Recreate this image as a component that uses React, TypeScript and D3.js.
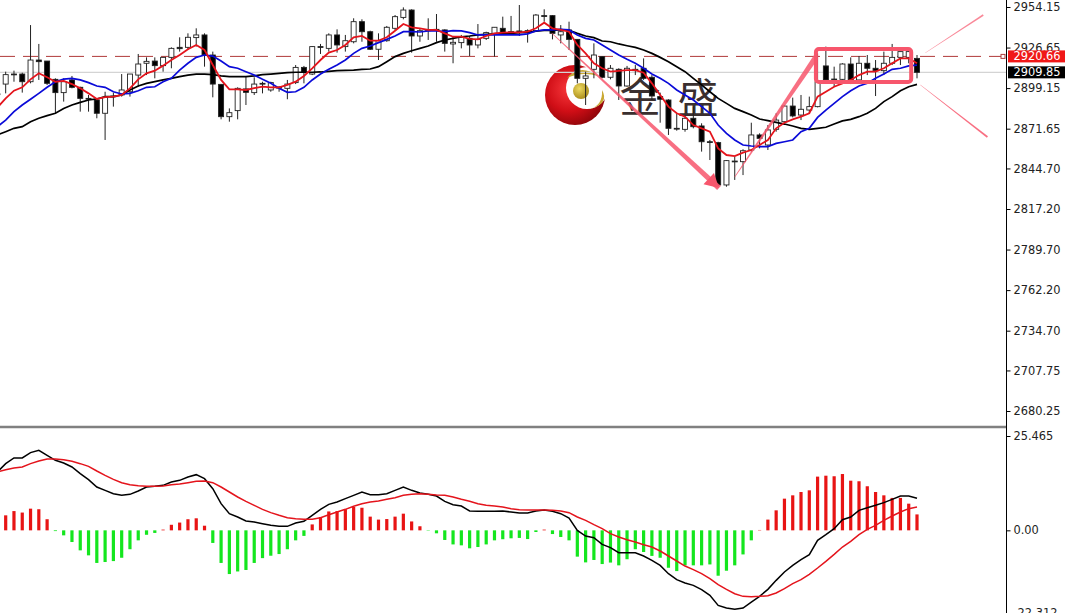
import React, { useEffect, useRef } from 'react';
import * as d3 from 'd3';

const opens = [2895.3,
  2901.9,2908.7,2908.7,2903.5,2918.2,2917.5,2905.1,2896.1,2904.7,2899.7,
  2892.2,2891.1,2882.1,2893.8,2894.5,2896.7,2908.0,2916.0,2917.5,2914.4,
  2920.0,2926.8,2926.8,2933.4,2935.2,2921.6,2901.7,2879.8,2883.9,2898.6,
  2896.1,2902.4,2897.9,2899.7,2899.0,2902.9,2913.2,2908.7,2927.3,2926.1,
  2935.2,2927.3,2930.6,2944.2,2937.4,2925.5,2931.3,2939.7,2947.1,2952.1,
  2934.5,2938.6,2939.0,2938.6,2929.1,2930.0,2932.9,2928.4,2932.9,2936.3,
  2939.7,2937.4,2937.9,2938.1,2938.1,2948.3,2948.3,2935.2,2938.6,2932.2,
  2905.8,2911.9,2920.5,2906.5,2911.9,2900.6,2911.9,2912.6,2906.5,2893.4,
  2891.1,2871.9,2871.2,2878.7,2873.5,2862.8,2862.2,2833.5,2849.7,2849.3,
  2857.2,2867.4,2860.6,2871.2,2876.4,2887.0,2880.9,2884.3,2886.6,2914.2,
  2904.7,2905.1,2915.5,2904.7,2916.0,2912.6,2911.0,2916.0,2920.0,2920.0,
  2919.3];

const closes = [2895.0,
  2908.3,2908.5,2903.5,2918.2,2917.1,2902.4,2896.1,2903.5,2899.7,2892.2,
  2891.8,2882.1,2892.9,2893.4,2897.9,2908.7,2915.5,2917.3,2914.4,2920.0,
  2926.1,2925.9,2933.6,2935.2,2921.6,2901.9,2879.8,2882.5,2899.0,2896.3,
  2901.9,2901.9,2902.9,2899.5,2901.9,2913.2,2909.9,2927.3,2926.8,2935.2,
  2928.4,2931.3,2944.2,2937.4,2925.5,2931.3,2940.4,2947.6,2952.1,2934.5,
  2938.1,2938.1,2938.6,2929.5,2930.2,2933.6,2928.4,2932.2,2936.8,2940.4,
  2936.3,2937.0,2937.2,2937.0,2948.7,2947.8,2936.3,2937.4,2932.2,2905.8,
  2907.4,2921.6,2906.5,2912.6,2900.6,2912.6,2911.0,2905.8,2893.8,2891.6,
  2871.9,2871.4,2878.7,2873.0,2862.8,2862.4,2833.5,2850.0,2849.3,2856.7,
  2867.4,2865.1,2870.8,2877.5,2887.0,2880.3,2884.8,2886.6,2903.5,2904.7,
  2905.3,2915.5,2904.7,2916.0,2912.6,2911.0,2916.0,2920.0,2923.9,2923.9,
  2909.85];

const highs = [2902.4,
  2910.3,2911.0,2909.6,2941.9,2929.1,2917.5,2905.8,2905.8,2907.4,2900.1,
  2894.5,2892.2,2896.7,2896.1,2908.7,2908.7,2922.3,2920.0,2920.0,2920.0,
  2926.8,2933.6,2936.3,2939.7,2936.3,2923.9,2901.7,2885.4,2899.7,2906.9,
  2906.5,2903.5,2903.5,2900.6,2904.7,2914.8,2914.2,2927.7,2929.1,2936.3,
  2939.0,2935.2,2946.5,2945.8,2938.1,2936.3,2941.3,2948.7,2953.9,2952.6,
  2939.7,2946.5,2949.4,2939.0,2934.5,2935.2,2934.5,2942.6,2937.4,2940.4,
  2947.6,2948.1,2955.5,2939.0,2949.4,2952.6,2948.7,2941.9,2944.2,2932.2,
  2910.3,2929.5,2920.9,2914.8,2912.6,2914.2,2914.8,2919.3,2908.0,2896.1,
  2891.6,2882.1,2880.9,2886.6,2875.3,2864.0,2862.8,2850.4,2852.7,2857.7,
  2875.7,2868.5,2874.1,2882.1,2887.7,2892.7,2894.5,2893.4,2922.7,2927.3,
  2913.7,2916.0,2920.0,2920.9,2921.6,2918.2,2923.9,2929.1,2923.9,2925.0,
  2921.6];

const lows = [2888.8,
  2895.6,2903.5,2896.1,2902.4,2904.7,2901.3,2882.1,2890.0,2899.0,2883.2,
  2883.2,2878.7,2864.0,2886.6,2893.4,2893.4,2900.1,2908.0,2905.8,2910.3,
  2912.6,2923.9,2925.0,2927.3,2913.7,2892.9,2878.0,2876.4,2878.0,2887.7,
  2894.5,2895.6,2896.7,2896.7,2891.6,2901.9,2902.4,2908.0,2922.3,2923.9,
  2923.2,2923.9,2929.5,2930.6,2925.0,2918.2,2930.6,2938.6,2945.8,2923.2,
  2930.6,2931.8,2930.6,2923.9,2916.0,2926.1,2920.9,2926.1,2931.8,2920.5,
  2936.3,2935.2,2934.5,2930.0,2937.4,2944.2,2932.2,2929.5,2925.0,2902.4,
  2887.7,2905.8,2905.8,2905.1,2891.1,2900.1,2908.0,2904.7,2891.1,2875.7,
  2867.4,2870.3,2869.6,2871.9,2856.1,2850.4,2832.8,2832.3,2836.9,2840.2,
  2856.1,2858.3,2857.2,2869.6,2875.3,2879.3,2877.5,2882.1,2886.1,2903.5,
  2900.1,2904.7,2901.9,2904.7,2908.0,2893.8,2908.0,2914.8,2914.8,2916.0,
  2905.8];

const maFast = [2886.1,
  2892.2,2897.4,2899.7,2905.1,2909.2,2906.5,2903.5,2904.0,2901.9,2899.0,
  2895.6,2891.8,2893.1,2893.4,2894.5,2899.0,2905.1,2909.2,2911.0,2914.4,
  2918.2,2921.6,2925.5,2928.4,2925.0,2914.8,2904.7,2898.3,2898.3,2897.9,
  2899.2,2900.1,2899.7,2899.7,2901.3,2903.5,2907.4,2912.6,2918.2,2923.2,
  2925.0,2928.4,2933.6,2934.5,2931.3,2931.3,2933.6,2938.1,2942.6,2940.4,
  2939.7,2938.6,2938.6,2936.3,2934.0,2934.0,2932.5,2932.2,2934.5,2936.3,
  2936.8,2937.0,2937.0,2937.4,2939.7,2943.5,2939.7,2938.6,2937.4,2928.4,
  2922.7,2916.0,2912.6,2910.3,2910.8,2911.4,2911.4,2909.6,2902.4,2894.5,
  2886.6,2882.1,2879.8,2874.1,2871.9,2869.6,2858.3,2853.8,2853.1,2855.4,
  2857.2,2860.6,2864.0,2871.9,2875.7,2878.0,2879.8,2882.1,2893.4,2896.7,
  2900.1,2902.4,2904.7,2908.0,2910.3,2910.3,2912.6,2916.0,2919.3,2919.3,
  2916.0];

const maMid = [2873.0,
  2877.5,2883.2,2887.7,2891.6,2895.6,2899.7,2903.5,2905.3,2905.8,2904.7,
  2902.9,2900.6,2899.7,2896.7,2895.2,2895.6,2897.4,2899.7,2900.1,2903.5,
  2905.8,2911.4,2916.0,2920.0,2921.6,2920.9,2917.5,2913.7,2912.6,2910.3,
  2908.0,2905.1,2902.4,2899.0,2896.3,2896.7,2899.7,2904.7,2908.7,2911.9,
  2914.8,2918.2,2922.7,2926.1,2927.7,2930.0,2932.2,2934.5,2937.4,2937.4,
  2937.2,2937.9,2937.9,2937.4,2938.1,2937.9,2936.8,2935.2,2935.2,2935.2,
  2935.2,2935.2,2935.2,2935.9,2937.9,2938.6,2938.6,2939.0,2938.6,2935.2,
  2932.9,2931.8,2928.4,2925.0,2921.6,2918.7,2916.0,2912.6,2908.7,2905.8,
  2902.4,2897.9,2894.5,2891.1,2886.6,2882.1,2874.1,2868.5,2864.0,2860.6,
  2859.9,2859.5,2859.5,2861.7,2862.8,2864.0,2869.6,2871.9,2879.3,2884.3,
  2888.8,2893.4,2897.4,2900.6,2902.4,2905.8,2908.7,2911.9,2912.6,2914.2,
  2914.8];

const maSlow = [2867.4,
  2869.6,2871.9,2873.0,2876.4,2878.7,2880.5,2882.1,2885.4,2887.7,2889.5,
  2891.1,2891.8,2893.4,2893.4,2894.5,2897.9,2900.6,2902.4,2903.5,2904.7,
  2905.8,2906.9,2908.0,2908.7,2908.7,2908.3,2907.4,2906.9,2906.9,2906.9,
  2907.4,2908.3,2908.7,2909.2,2909.6,2909.9,2909.9,2909.9,2910.1,2910.5,
  2911.0,2911.2,2911.4,2911.9,2912.1,2913.7,2917.1,2920.5,2922.7,2924.5,
  2926.1,2927.7,2930.0,2931.8,2932.9,2934.0,2934.5,2935.2,2935.6,2935.9,
  2936.3,2936.3,2936.8,2937.0,2937.7,2938.3,2938.3,2938.8,2938.3,2936.3,
  2934.5,2933.4,2931.1,2930.6,2929.1,2927.9,2926.8,2925.0,2922.7,2920.0,
  2917.1,2913.7,2910.3,2905.8,2901.3,2896.7,2892.2,2888.8,2885.4,2883.2,
  2880.9,2878.2,2877.1,2875.9,2874.8,2873.5,2871.9,2871.2,2871.9,2872.6,
  2874.8,2876.9,2878.0,2879.8,2882.1,2885.4,2890.0,2893.4,2897.4,2900.1,
  2901.7];

const macdHist = [0,
  4.05,5.2,4.8,5.85,5.7,3.0,-0.2,-1.35,-3.15,-5.4,
  -6.75,-8.8,-8.55,-8.3,-7.4,-5.1,-2.7,-1.2,-0.7,0.2,
  1.5,2.1,3.0,3.25,1.25,-3.4,-8.8,-11.8,-11.1,-10.7,
  -8.8,-7.5,-6.85,-6.4,-5.1,-2.7,-1.5,1.6,3.6,5.1,
  5.2,5.7,6.3,6.1,3.7,2.9,3.05,3.7,4.5,2.4,
  1.1,-0.1,-0.8,-2.6,-3.8,-4.05,-4.85,-4.5,-3.8,-2.7,
  -2.4,-2.15,-2.05,-2.35,-0.45,0.2,-1.0,-1.8,-2.7,-7.1,
  -8.65,-8.0,-9.1,-8.7,-9.45,-7.8,-5.1,-5.85,-6.9,-7.4,
  -10.1,-11.0,-9.45,-9.45,-9.45,-9.2,-12.25,-10.9,-9.45,-6.5,
  -2.7,0.1,2.9,5.4,8.55,9.45,10.35,10.8,14.5,14.75,
  14.6,15.2,13.4,13.25,11.9,10.35,9.45,8.75,8.75,7.2,
  4.3];

const macdLine = [15.75,
  18.0,19.53,19.53,20.97,21.6,20.25,18.9,18.18,17.1,15.3,
  13.68,11.7,10.8,9.9,9.45,9.72,10.62,11.7,11.88,12.15,
  13.05,13.5,14.4,15.03,13.95,11.25,7.2,4.5,3.6,2.52,
  2.25,1.8,1.35,1.08,1.08,1.98,2.43,4.05,5.67,7.02,
  7.65,8.55,9.45,10.35,9.63,9.63,9.9,10.8,11.7,10.8,
  10.08,9.72,9.27,7.83,6.93,6.57,5.22,5.13,5.13,5.13,
  5.22,4.95,4.68,4.68,5.22,5.49,5.13,4.5,3.33,0,
  -1.53,-1.98,-3.78,-4.68,-6.03,-6.03,-6.03,-6.93,-8.1,-9.45,
  -11.7,-13.32,-14.22,-14.85,-16.02,-17.55,-20.25,-20.97,-21.33,-20.97,
  -19.35,-17.82,-15.93,-13.5,-11.25,-9.45,-7.92,-6.57,-2.7,-1.17,
  0.45,2.88,3.6,5.4,6.12,6.75,7.47,8.37,9.27,9.27,
  8.64];

const macdSignal = [15.75,
  16.38,16.83,17.1,18.0,18.72,19.26,19.26,19.08,18.63,18.0,
  17.28,16.02,14.85,13.77,12.87,12.33,12.06,11.88,11.88,11.97,
  12.33,12.51,12.87,13.23,13.32,12.87,11.7,10.35,9.0,7.83,
  6.75,5.67,4.77,4.05,3.42,3.15,2.97,2.97,3.42,4.23,
  4.95,5.67,6.48,7.2,7.65,7.92,8.37,8.82,9.45,9.72,
  9.9,9.72,9.54,9.45,9.0,8.37,7.83,7.2,6.75,6.57,
  6.3,5.85,5.58,5.49,5.49,5.49,5.4,5.22,4.77,3.6,
  2.7,1.53,0.45,-0.9,-1.8,-2.52,-3.15,-3.87,-4.5,-5.58,
  -6.93,-8.28,-9.63,-10.62,-11.7,-13.05,-14.67,-15.93,-17.1,-17.82,
  -17.91,-17.82,-17.64,-16.92,-15.75,-14.4,-13.32,-11.88,-10.17,-8.37,
  -6.48,-4.5,-2.97,-1.17,0.27,1.35,2.7,3.87,4.95,5.85,
  6.3];

const priceTicks = [2954.15, 2926.65, 2899.15, 2871.65, 2844.70, 2817.20, 2789.70, 2762.20, 2734.70, 2707.75, 2680.25];
const macdTicks = [25.465, 0, -22.312];
const macdTickLabels = ['25.465', '0.00', '-22.312'];
const refPrice = 2920.66;
const lastPrice = 2909.85;

// hand drawn marks on the chart, as [bar, price]
const downArrow = [[66.9, 2936.5], [87.1, 2831.4]];
const upArrow = [[89, 2838.9], [98.8, 2920.2]];
const fanUp = [[112, 2923], [119, 2948.7]];
const fanDown = [[111.4, 2901.3], [119.5, 2866]];
const boxBars = [98.8, 110.3];
const boxPrices = [2925.7, 2903.3];

const W = 1065;
const H = 613;
const axisX = 1006.5;
const PINK = '#f7566c';
const FONT = '"DejaVu Sans", Verdana, sans-serif';
const FONT_SIZE = 11.4;

const x = d3.scaleLinear().domain([0, opens.length - 1]).range([-2.6, 917]);
const yMain = d3.scaleLinear().domain([2680.25, 2954.15]).range([411, 7]);
const yMacd = d3.scaleLinear().domain([-22.312, 25.465]).range([613, 436]);

const mainLine = d3.line<number>().x((_, i) => x(i)).y(d => yMain(d));
const subLine = d3.line<number>().x((_, i) => x(i)).y(d => yMacd(d));

// long thin wedge, w0 wide at the start and w1 at the end
const wedge = (p: number[][], w0: number, w1: number) => {
  const x0 = x(p[0][0]), y0 = yMain(p[0][1]), x1 = x(p[1][0]), y1 = yMain(p[1][1]);
  const len = Math.hypot(x1 - x0, y1 - y0);
  const nx = -(y1 - y0) / len, ny = (x1 - x0) / len;
  return `M${x0 + nx * w0 / 2},${y0 + ny * w0 / 2}L${x1 + nx * w1 / 2},${y1 + ny * w1 / 2}L${x1 - nx * w1 / 2},${y1 - ny * w1 / 2}L${x0 - nx * w0 / 2},${y0 - ny * w0 / 2}Z`;
};

const arrowHead = (p: number[][], size: number) => {
  const x0 = x(p[0][0]), y0 = yMain(p[0][1]), x1 = x(p[1][0]), y1 = yMain(p[1][1]);
  const len = Math.hypot(x1 - x0, y1 - y0);
  const ux = (x1 - x0) / len, uy = (y1 - y0) / len;
  const bx = x1 - ux * size, by = y1 - uy * size;
  return `M${x1},${y1}L${bx - uy * size * 0.55},${by + ux * size * 0.55}L${bx + uy * size * 0.55},${by - ux * size * 0.55}Z`;
};

const App: React.FC = () => {
  const mainAxisRef = useRef<SVGGElement>(null);
  const macdAxisRef = useRef<SVGGElement>(null);

  useEffect(() => {
    if (!mainAxisRef.current || !macdAxisRef.current) return;

    const mainAxis = d3.axisRight(yMain)
      .tickValues(priceTicks)
      .tickSize(4)
      .tickPadding(3)
      .tickFormat(d => (d as number).toFixed(2));
    d3.select(mainAxisRef.current).call(mainAxis).call(g => g.select('.domain').remove());

    const macdAxis = d3.axisRight(yMacd)
      .tickValues(macdTicks)
      .tickSize(4)
      .tickPadding(3)
      .tickFormat((_, i) => macdTickLabels[i]);
    d3.select(macdAxisRef.current).call(macdAxis).call(g => g.select('.domain').remove());

    d3.selectAll([mainAxisRef.current, macdAxisRef.current])
      .attr('font-family', FONT)
      .attr('font-size', FONT_SIZE)
      .selectAll('text')
      .attr('fill', '#222');
  }, []);

  return (
    <svg
      width={W}
      height={H}
      viewBox={`0 0 ${W} ${H}`}
      style={{ position: 'absolute', left: 0, top: 0, background: '#fff' }}
    >
      <defs>
        <radialGradient id="logoRed" cx="0.4" cy="0.4" r="0.68">
          <stop offset="0" stopColor="#f8383c" />
          <stop offset="0.55" stopColor="#d00e16" />
          <stop offset="1" stopColor="#860408" />
        </radialGradient>
        <radialGradient id="logoGold" cx="0.4" cy="0.35" r="0.7">
          <stop offset="0" stopColor="#ecd860" />
          <stop offset="1" stopColor="#a88a18" />
        </radialGradient>
      </defs>

      {/* watermark sits under the candles */}
      <g>
        <circle cx={575} cy={95} r={30} fill="url(#logoRed)" />
        <circle cx={587} cy={88} r={21} fill="#fff" />
        <circle cx={581} cy={91} r={8} fill="url(#logoGold)" />
        <path d="M567,78Q580,63 598,76Q582,71 567,78Z" fill="#c9a832" />
        <path d="M589,109Q603,106 602,90Q610,104 589,109Z" fill="#c9a832" />
        <text x={640} y={112} textAnchor="middle" fontFamily='"Noto Sans CJK SC"' fontSize={41} fill="#3a2f2f">金</text>
        <text x={698} y={113} textAnchor="middle" fontFamily='"Noto Sans CJK SC"' fontSize={41} fill="#3a2f2f">盛</text>
      </g>

      <line x1={0} x2={axisX} y1={yMain(lastPrice)} y2={yMain(lastPrice)} stroke="#d4d4d4" strokeWidth={1.4} />
      <line x1={0} x2={axisX} y1={yMain(refPrice)} y2={yMain(refPrice)} stroke="#b03a3a" strokeWidth={1} strokeDasharray="15 8" />

      {opens.map((o, i) => {
        const c = closes[i];
        const top = yMain(Math.max(o, c));
        const bottom = yMain(Math.min(o, c));
        return (
          <g key={i}>
            <line x1={x(i)} x2={x(i)} y1={yMain(highs[i])} y2={yMain(lows[i])} stroke="#222" strokeWidth={1} />
            <rect
              x={x(i) - 2.5}
              width={5}
              y={top}
              height={Math.max(bottom - top, 0.8)}
              fill={c >= o ? '#fff' : '#000'}
              stroke="#222"
              strokeWidth={0.9}
            />
          </g>
        );
      })}

      <path d={mainLine(maSlow) ?? ''} fill="none" stroke="#000" strokeWidth={1.7} />
      <path d={mainLine(maMid) ?? ''} fill="none" stroke="#0a0ad8" strokeWidth={1.7} />
      <path d={mainLine(maFast) ?? ''} fill="none" stroke="#e4141c" strokeWidth={1.8} />

      {/* pink annotations */}
      <path d={wedge(downArrow, 0.6, 5.5)} fill={PINK} opacity={0.85} />
      <path d={arrowHead(downArrow, 14)} fill={PINK} />
      <path d={wedge(upArrow, 0.6, 5.5)} fill={PINK} opacity={0.85} />
      <path d={wedge(fanUp, 0.3, 1.6)} fill={PINK} opacity={0.7} />
      <path d={wedge(fanDown, 0.3, 1.8)} fill={PINK} opacity={0.85} />
      <rect
        x={x(boxBars[0])}
        y={yMain(boxPrices[0])}
        width={x(boxBars[1]) - x(boxBars[0])}
        height={yMain(boxPrices[1]) - yMain(boxPrices[0])}
        rx={3}
        fill="none"
        stroke={PINK}
        strokeWidth={4}
      />

      {/* divider and price scale */}
      <line x1={0} x2={axisX} y1={427} y2={427} stroke="#808080" strokeWidth={2.5} />
      <line x1={axisX} x2={axisX} y1={0} y2={H} stroke="#000" strokeWidth={1} />
      <g ref={mainAxisRef} transform={`translate(${axisX},0)`} />
      <g ref={macdAxisRef} transform={`translate(${axisX},0)`} />

      <rect x={1001} y={yMain(refPrice) - 2} width={4} height={4} fill="#fff" stroke="#b03a3a" strokeWidth={1} />
      <rect x={1008} y={yMain(refPrice) - 6} width={57} height={12} fill="#f01818" />
      <text x={1013.5} y={yMain(refPrice) + 4} fontFamily={FONT} fontSize={FONT_SIZE} fill="#fff">{refPrice.toFixed(2)}</text>
      <rect x={1008} y={yMain(lastPrice) - 6} width={57} height={12} fill="#000" />
      <text x={1013.5} y={yMain(lastPrice) + 4} fontFamily={FONT} fontSize={FONT_SIZE} fill="#fff">{lastPrice.toFixed(2)}</text>

      {/* MACD panel */}
      {macdHist.map((v, i) => (
        <rect
          key={i}
          x={x(i) - 1.6}
          width={3.2}
          y={v >= 0 ? yMacd(v) : yMacd(0)}
          height={Math.abs(yMacd(v) - yMacd(0))}
          fill={v >= 0 ? '#e81414' : '#14e61e'}
        />
      ))}
      <path d={subLine(macdLine) ?? ''} fill="none" stroke="#000" strokeWidth={1.5} />
      <path d={subLine(macdSignal) ?? ''} fill="none" stroke="#e4141c" strokeWidth={1.5} />
    </svg>
  );
};

export default App;
